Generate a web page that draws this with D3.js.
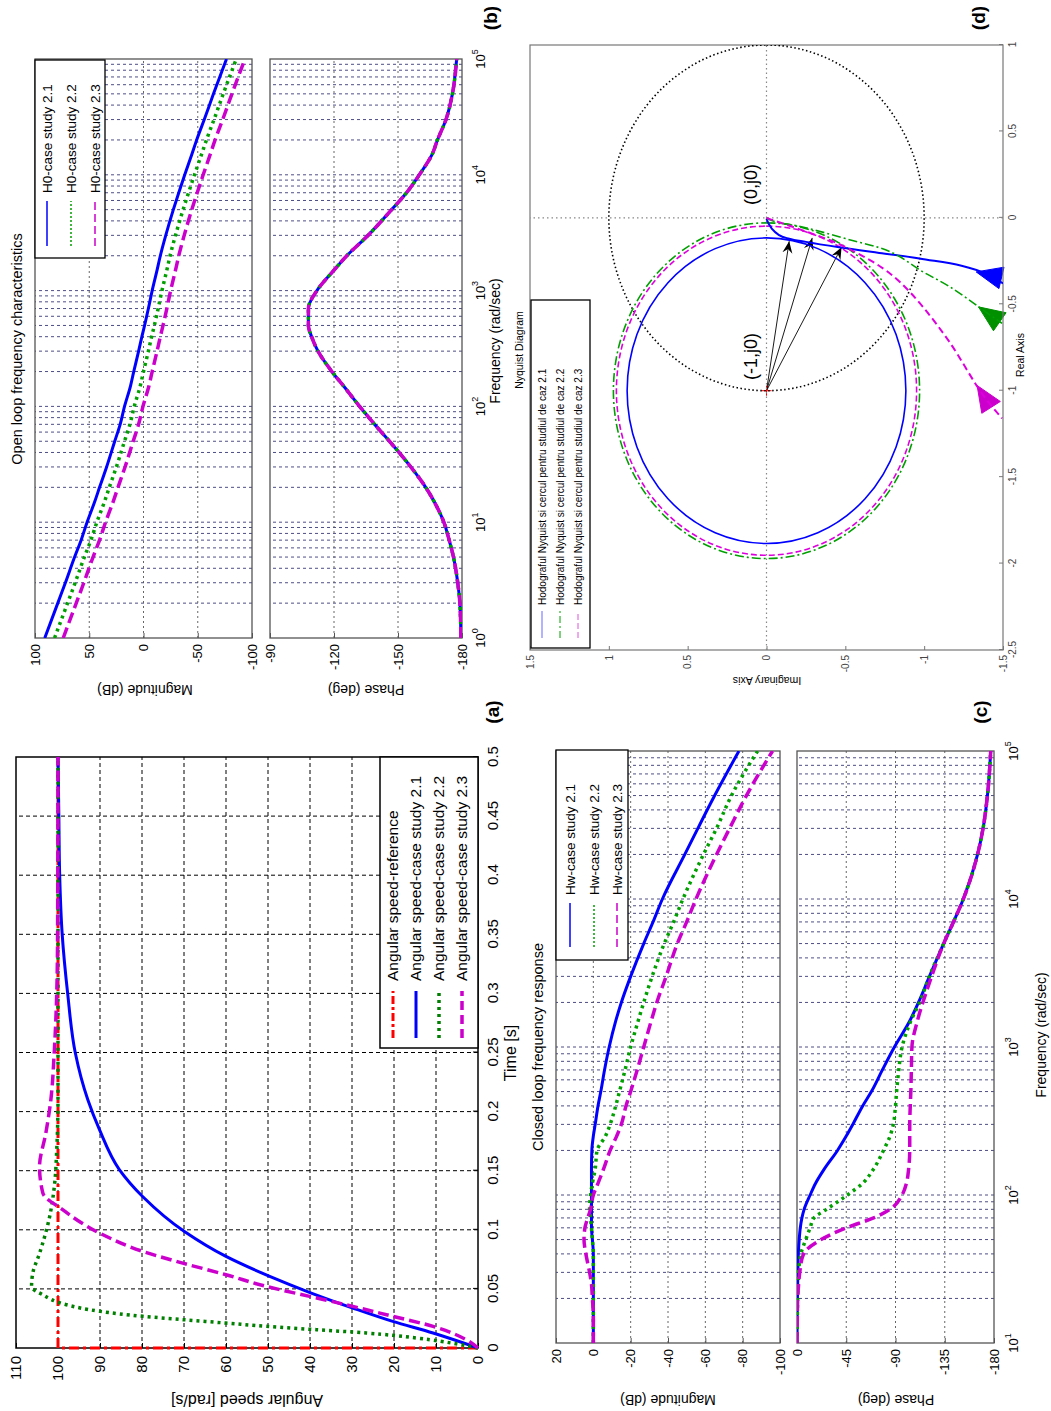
<!DOCTYPE html>
<html><head><meta charset="utf-8">
<script src="https://cdnjs.cloudflare.com/ajax/libs/d3/7.8.5/d3.min.js"></script>
<style>
html,body{margin:0;padding:0;background:#fff}
text{font-family:Arial,"Liberation Sans",Helvetica,sans-serif}
</style></head><body>
<svg id="fig" width="1051" height="1411"></svg>
<script>
// ================= DATA =================
// (a) step response
const timeTicks = [0,0.05,0.1,0.15,0.2,0.25,0.3,0.35,0.4,0.45,0.5];
const timeTickLabels = ["0","0.05","0.1","0.15","0.2","0.25","0.3","0.35","0.4","0.45","0.5"];
const speedTicks = [0,10,20,30,40,50,60,70,80,90,100,110];
const refT = [0,0,0.5];
const refW = [0,100,100];
const s21T = [0,0.0127,0.0225,0.0338,0.0465,0.0606,0.0775,0.0986,0.128,0.151,0.1845,0.21,0.25,0.3,0.35,0.4,0.45,0.5];
const s21W = [0,10.7,20.3,29.8,39.7,49.6,60,69.9,79.8,85.4,90.1,92.9,95.9,97.7,99,99.6,99.8,100];
const s22T = [0,0.003,0.0085,0.0127,0.0155,0.0183,0.0211,0.024,0.0268,0.031,0.0366,0.045,0.052,0.0634,0.08,0.111,0.139,0.168,0.21,0.3,0.5];
const s22W = [0,4.4,14.7,26.6,38.5,50.4,60,70.3,79.8,90,98,103.6,106.3,106,104.4,102,100.8,100.3,100,100,100];
const s23T = [0,0.007,0.0183,0.0268,0.0352,0.0437,0.0521,0.062,0.0718,0.0817,0.0972,0.117,0.131,0.1535,0.1817,0.21,0.25,0.3,0.35,0.5];
const s23W = [0,2.8,10.7,20.3,29.8,40.1,50.4,60,70.3,79.8,90.1,98.9,103.6,104.4,102.9,101.7,100.9,100.3,100.1,100];
const legendA = ["Angular speed-reference","Angular speed-case study 2.1","Angular speed-case study 2.2","Angular speed-case study 2.3"];

// (b) open loop Bode
const olFreq = [1,2,3,5,7,10,15,20,30,50,70,100,150,200,300,400,500,700,1000,1500,2000,3000,5000,7000,10000,15000,20000,30000,50000,100000];
const olMag21 = [91,79,72,63.5,57.5,52,45,40.5,34,26.5,21.5,17.5,12,9,4.5,1.5,-1,-4.5,-8,-12.5,-15.5,-20.5,-27.5,-32.5,-38,-44.5,-49,-56,-64.5,-76.5];
const olMag22 = [82,70,63,54.5,48.5,43,36,31.5,25,17.5,12.5,8.5,3,0,-4.5,-7.5,-10,-13.5,-17,-21.5,-24.5,-29.5,-36.5,-41.5,-47,-53.5,-58,-65,-73.5,-85.5];
const olMag23 = [74,62,55,46.5,40.5,35,28,23.5,17,9.5,4.5,0.5,-5,-8,-12.5,-15.5,-18,-21.5,-25,-29.5,-32.5,-37.5,-44.5,-49.5,-55,-61.5,-66,-73,-81.5,-93.5];
const olPhase = [-179.5,-179,-178,-176,-174,-171.5,-167,-163,-156,-146,-139,-132,-124.5,-119,-112.5,-109.5,-108,-108,-112,-120,-126,-136,-147,-154,-160,-166,-168.5,-172.5,-175.5,-177.5];
const olMagTicks = [-100,-50,0,50,100];
const olPhTicks = [-180,-150,-120,-90];
const olFreqTicks = [1,10,100,1000,10000,100000];
const legendB = ["H0-case study 2.1","H0-case study 2.2","H0-case study 2.3"];

// (c) closed loop Bode
const clFreq = [10,15,20,25,30,40,50,60,70,80,100,120,150,200,250,300,400,500,700,1000,1500,2000,3000,5000,7000,10000,20000,30000,50000,100000];
const clMag21 = [0,0,0,0,0,0,0.5,1,1,1,1,1,1,0.8,0,-1,-2.5,-4,-6,-8.5,-12,-15,-20,-27,-32,-37,-49,-56,-65,-78];
const clMag22 = [0,0,0,0,0,0,0.5,1,1.5,2,1.5,0.5,-1,-2,-6.5,-9,-12,-14,-17,-20,-24,-27,-31.5,-38,-43,-48,-59,-66,-74,-88];
const clMag23 = [0,0,0.5,1,2,4,5,4.5,3,1.5,0,-2.5,-5.5,-9,-12.5,-15,-17.5,-20,-23.5,-27,-31,-34,-39,-45,-50,-55,-66,-73,-82,-96];
const clPh21 = [0,-0.2,-0.4,-0.6,-0.8,-1.2,-2,-3,-4.5,-6.5,-12,-17,-25,-37,-45,-51,-60,-68,-78,-89,-103,-111,-121,-134,-143,-152,-165,-170,-174,-177];
const clPh22 = [0,-0.3,-0.6,-1,-1.5,-3.5,-8,-12,-15.5,-27,-46,-60,-70,-79,-85,-88,-90,-91,-93,-96,-104,-112,-121,-134,-143,-152,-165,-170,-174,-177];
const clPh23 = [0,-0.3,-0.6,-1.5,-2.5,-6,-22,-45,-70,-85,-96,-100,-102,-103,-103,-103,-103.5,-104,-104.5,-105,-110,-115,-123,-134,-143,-152,-165,-170,-174,-177];
const clMagTicks = [-100,-80,-60,-40,-20,0,20];
const clPhTicks = [-180,-135,-90,-45,0];
const clFreqTicks = [10,100,1000,10000,100000];
const legendC = ["Hw-case study 2.1","Hw-case study 2.2","Hw-case study 2.3"];

// (d) Nyquist
const nyRe21 = [-0.004,-0.019,-0.067,-0.1,-0.121,-0.139,-0.17,-0.203,-0.235,-0.33,-0.38];
const nyIm21 = [0,-0.006,-0.038,-0.08,-0.144,-0.25,-0.46,-0.715,-0.97,-1.41,-1.5];
const nyRe22 = [0,-0.01,-0.048,-0.12,-0.222,-0.3,-0.396,-0.558,-0.61];
const nyIm22 = [0,-0.017,-0.207,-0.5,-0.841,-0.97,-1.158,-1.412,-1.494];
const nyRe23 = [0,-0.01,-0.065,-0.18,-0.367,-0.715,-1.033,-1.16];
const nyIm23 = [0,-0.03,-0.207,-0.524,-0.841,-1.158,-1.38,-1.494];
const circleRadius = [0.884, 0.971, 0.952];   // circles centred at (-1, j0)
const arrowTipRe = [-0.135,-0.116,-0.17];
const arrowTipIm = [-0.144,-0.29,-0.476];
const dirArrowIdx = [9,7,6];
const reTicks = [-2.5,-2,-1.5,-1,-0.5,0,0.5,1];
const imTicks = [-1.5,-1,-0.5,0,0.5,1,1.5];
const legendD = ["Hodograful Nyquist si cercul pentru studiul de caz 2.1","Hodograful Nyquist si cercul pentru studiul de caz 2.2","Hodograful Nyquist si cercul pentru studiul de caz 2.3"];

// ================= DRAWING =================
const fmt = d => String(d);
const svg = d3.select('#fig');
const root = svg.append('g').attr('transform','translate(0,1411) rotate(-90)'); // landscape page turned
const defs = root.append('defs');

function T(g,x,y,s,o={}){
  const t=g.append('text').attr('x',x).attr('y',y).text(s)
    .attr('font-size',o.size||14).attr('text-anchor',o.anchor||'start').attr('fill',o.fill||'#000');
  if(o.weight) t.attr('font-weight',o.weight);
  if(o.rot) t.attr('transform',`rotate(${o.rot},${x},${y})`);
  return t;
}
function P(g,pts,st,curve){
  return g.append('path').attr('d',d3.line().curve(curve||d3.curveLinear)(pts))
    .attr('fill','none').attr('stroke',st.c).attr('stroke-width',st.w||1)
    .attr('stroke-dasharray',st.d||null).attr('stroke-linecap',st.cap||'butt').attr('stroke-linejoin','round');
}
let cid=0;
function clipG(x0,y0,x1,y1){
  const id='cp'+(cid++);
  defs.append('clipPath').attr('id',id).append('rect').attr('x',x0).attr('y',y0).attr('width',x1-x0).attr('height',y1-y0);
  return root.append('g').attr('clip-path',`url(#${id})`);
}
function L(g,x1,y1,x2,y2,st){
  return g.append('line').attr('x1',x1).attr('y1',y1).attr('x2',x2).attr('y2',y2)
    .attr('stroke',st.c).attr('stroke-width',st.w||1).attr('stroke-dasharray',st.d||null);
}
const zip=(xs,ys,sx,sy)=>xs.map((x,i)=>[sx(x),sy(ys[i])]);

// ---------- (a) ----------
{
  const x=d3.scaleLinear().domain([0,0.5]).range([63,654]);
  const y=d3.scaleLinear().domain([0,110]).range([478,16]);
  const g=root.append('g');
  timeTicks.slice(1,-1).forEach(t=>L(g,x(t),y(0),x(t),y(110),{c:'#000',w:1,d:'4,3'}));
  speedTicks.slice(1,-1).forEach(v=>L(g,x(0),y(v),x(0.5),y(v),{c:'#000',w:1,d:'4,3'}));
  const xa=g.append('g').attr('transform',`translate(0,${y(0)})`)
    .call(d3.axisBottom(x).tickValues(timeTicks).tickFormat((d,i)=>timeTickLabels[i]).tickSizeInner(-5).tickSizeOuter(0).tickPadding(9));
  const ya=g.append('g').attr('transform',`translate(${x(0)},0)`)
    .call(d3.axisLeft(y).tickValues(speedTicks).tickFormat(fmt).tickSizeInner(-5).tickSizeOuter(0).tickPadding(8));
  [xa,ya].forEach(a=>{a.select('.domain').remove();a.selectAll('text').attr('font-size',15).attr('font-family','Arial,"Liberation Sans",sans-serif');a.selectAll('line').attr('stroke','#000');});
  const c=clipG(x(0)-3,y(110),x(0.5),y(0)+3);
  P(c,zip(refT,refW,x,y),{c:'#ff0000',w:3,d:'10,4,3,4'});
  P(c,zip(s21T,s21W,x,y),{c:'#0000ff',w:3},d3.curveMonotoneX);
  P(c,zip(s22T,s22W,x,y),{c:'#008000',w:3.5,d:'3,4'},d3.curveMonotoneX);
  P(c,zip(s23T,s23W,x,y),{c:'#cc00cc',w:3.5,d:'11,5'},d3.curveMonotoneX);
  g.append('rect').attr('x',x(0)).attr('y',y(110)).attr('width',x(0.5)-x(0)).attr('height',y(0)-y(110)).attr('fill','none').attr('stroke','#000').attr('stroke-width',1.5);
  const lg=root.append('g');
  lg.append('rect').attr('x',363).attr('y',380).attr('width',654-363).attr('height',478-380).attr('fill','#fff').attr('stroke','#000').attr('stroke-width',1.5);
  const st=[{c:'#ff0000',w:3,d:'8,3,3,3'},{c:'#0000ff',w:3},{c:'#008000',w:3.5,d:'3,4'},{c:'#cc00cc',w:3.5,d:'9,5'}];
  const ly=[393,416,439,462];
  legendA.forEach((s,i)=>{L(lg,373,ly[i],420,ly[i],st[i]);T(lg,430,ly[i]+5,s,{size:15.5});});
  T(root,358,516,'Time [s]',{size:16,anchor:'middle'});
  T(root,16,247,'Angular speed [rad/s]',{size:16,anchor:'middle',rot:-90});
  T(root,699,499,'(a)',{size:19,weight:'bold',anchor:'middle'});
}

// ---------- Bode helper ----------
function bodePlot(xs, ys, yTicks, decades){
  const g=root.append('g');
  const [x0,x1]=xs.range(), [yb,yt]=ys.range();
  const gridSt={c:'#3a3a7a',w:0.9,d:'3,3'};
  for(let k=decades[0];k<decades[1];k++){
    for(let m=1;m<10;m++){const f=m*Math.pow(10,k); if(k===decades[0]&&m===1) continue; L(g,xs(f),yb,xs(f),yt,gridSt);}
  }
  yTicks.forEach(v=>{ if(ys(v)>yt+1 && ys(v)<yb-1) L(g,x0,ys(v),x1,ys(v),{c:'#555',w:0.9,d:'2,3'}); });
  const ya=g.append('g').attr('transform',`translate(${x0},0)`)
    .call(d3.axisLeft(ys).tickValues(yTicks).tickFormat(fmt).tickSizeInner(-5).tickSizeOuter(0).tickPadding(6));
  ya.select('.domain').remove();
  ya.selectAll('text').attr('font-size',13).attr('font-family','Arial,"Liberation Sans",sans-serif').attr('fill','#000');
  ya.selectAll('line').attr('stroke','#555');
  g.append('rect').attr('x',x0).attr('y',yt).attr('width',x1-x0).attr('height',yb-yt).attr('fill','none').attr('stroke','#555').attr('stroke-width',1.3);
  return g;
}
function freqLabels(g, xs, ticks, yy){
  ticks.forEach(f=>{
    const t=g.append('text').attr('x',xs(f)).attr('y',yy).attr('text-anchor','middle').attr('font-size',13);
    t.append('tspan').text('10');
    t.append('tspan').attr('dy',-7).attr('font-size',9).text(String(Math.round(Math.log10(f))));
  });
}

// ---------- (b) ----------
{
  const x=d3.scaleLog().domain([1,1e5]).range([773,1352]);
  const ym=d3.scaleLinear().domain([-100,100]).range([252,35]);
  const yp=d3.scaleLinear().domain([-180,-90]).range([462,270]);
  bodePlot(x,ym,olMagTicks,[0,5]);
  bodePlot(x,yp,olPhTicks,[0,5]);
  const cm=clipG(773,35,1352,252);
  P(cm,zip(olFreq,olMag21,x,ym),{c:'#0000ff',w:3},d3.curveMonotoneX);
  P(cm,zip(olFreq,olMag22,x,ym),{c:'#00a000',w:3.5,d:'3,4'},d3.curveMonotoneX);
  P(cm,zip(olFreq,olMag23,x,ym),{c:'#cc00cc',w:3.5,d:'11,5'},d3.curveMonotoneX);
  const cp=clipG(773,270,1352,462);
  P(cp,zip(olFreq,olPhase,x,yp),{c:'#0000ff',w:3},d3.curveMonotoneX);
  P(cp,zip(olFreq,olPhase,x,yp),{c:'#00a000',w:3.5,d:'3,4'},d3.curveMonotoneX);
  P(cp,zip(olFreq,olPhase,x,yp),{c:'#cc00cc',w:3.5,d:'11,5'},d3.curveMonotoneX);
  freqLabels(root,x,olFreqTicks,485);
  T(root,1062,22,'Open loop frequency characteristics',{size:14.5,anchor:'middle'});
  T(root,1070,500,'Frequency  (rad/sec)',{size:14,anchor:'middle'});
  T(root,726,145,'Magnitude (dB)',{size:14,anchor:'middle',rot:-90});
  T(root,726,366,'Phase (deg)',{size:14,anchor:'middle',rot:-90});
  const lg=root.append('g');
  lg.append('rect').attr('x',1153).attr('y',35).attr('width',1351-1153).attr('height',70).attr('fill','#fff').attr('stroke','#000').attr('stroke-width',1.3);
  const st=[{c:'#0000ff',w:1.5},{c:'#00a000',w:1.5,d:'2,2'},{c:'#cc00cc',w:1.5,d:'8,4'}];
  [47,71,95].forEach((yy,i)=>{L(lg,1165,yy,1210,yy,st[i]);T(lg,1218,yy+5,legendB[i],{size:13.5});});
  T(root,1393,497,'(b)',{size:19,weight:'bold',anchor:'middle'});
}

// ---------- (c) ----------
{
  const x=d3.scaleLog().domain([10,1e5]).range([68,660]);
  const ym=d3.scaleLinear().domain([-100,20]).range([780,556]);
  const yp=d3.scaleLinear().domain([-180,0]).range([994,797]);
  bodePlot(x,ym,clMagTicks,[1,5]);
  bodePlot(x,yp,clPhTicks,[1,5]);
  const cm=clipG(68,556,660,780);
  P(cm,zip(clFreq,clMag21,x,ym),{c:'#0000ff',w:3},d3.curveMonotoneX);
  P(cm,zip(clFreq,clMag22,x,ym),{c:'#00a000',w:3.5,d:'3,4'},d3.curveMonotoneX);
  P(cm,zip(clFreq,clMag23,x,ym),{c:'#cc00cc',w:3.5,d:'11,5'},d3.curveMonotoneX);
  const cp=clipG(68,797,660,994);
  P(cp,zip(clFreq,clPh21,x,yp),{c:'#0000ff',w:3},d3.curveMonotoneX);
  P(cp,zip(clFreq,clPh22,x,yp),{c:'#00a000',w:3.5,d:'3,4'},d3.curveMonotoneX);
  P(cp,zip(clFreq,clPh23,x,yp),{c:'#cc00cc',w:3.5,d:'11,5'},d3.curveMonotoneX);
  freqLabels(root,x,clFreqTicks,1018);
  T(root,364,543,'Closed loop frequency response',{size:14.5,anchor:'middle'});
  T(root,376,1046,'Frequency  (rad/sec)',{size:14,anchor:'middle'});
  T(root,16,668,'Magnitude (dB)',{size:14,anchor:'middle',rot:-90});
  T(root,16,896,'Phase (deg)',{size:14,anchor:'middle',rot:-90});
  const lg=root.append('g');
  lg.append('rect').attr('x',451).attr('y',556).attr('width',661-451).attr('height',72).attr('fill','#fff').attr('stroke','#000').attr('stroke-width',1.3);
  const st=[{c:'#0000ff',w:1.5},{c:'#00a000',w:1.5,d:'2,2'},{c:'#cc00cc',w:1.5,d:'8,4'}];
  [570,594,617].forEach((yy,i)=>{L(lg,464,yy,508,yy,st[i]);T(lg,516,yy+5,legendC[i],{size:13.5});});
  T(root,699,987,'(c)',{size:19,weight:'bold',anchor:'middle'});
}

// ---------- (d) ----------
{
  const x=d3.scaleLinear().domain([-2.5,1]).range([761,1366]);
  const y=d3.scaleLinear().domain([-1.5,1.5]).range([1003,530]);
  const g=root.append('g');
  const c=clipG(761,530,1366,1003);
  L(c,x(0),y(-1.5),x(0),y(1.5),{c:'#888',w:1.2,d:'1.5,3'});
  L(c,x(-2.5),y(0),x(1),y(0),{c:'#888',w:1.2,d:'1.5,3'});
  c.append('ellipse').attr('cx',x(0)).attr('cy',y(0)).attr('rx',x(1)-x(0)).attr('ry',y(0)-y(1))
    .attr('fill','none').attr('stroke','#000').attr('stroke-width',1.6).attr('stroke-dasharray','1.5,2.5');
  const cst=[{c:'#0000ff',w:1.6},{c:'#00a000',w:1.6,d:'9,3,2,3'},{c:'#dd00dd',w:1.6,d:'6,3'}];
  circleRadius.forEach((r,i)=>{
    c.append('ellipse').attr('cx',x(-1)).attr('cy',y(0)).attr('rx',x(r)-x(0)).attr('ry',y(0)-y(r))
      .attr('fill','none').attr('stroke',cst[i].c).attr('stroke-width',cst[i].w).attr('stroke-dasharray',cst[i].d||null);
  });
  const curves=[[nyRe21,nyIm21],[nyRe22,nyIm22],[nyRe23,nyIm23]];
  const nst=[{c:'#0000ff',w:2},{c:'#00a000',w:1.6,d:'9,3,2,3'},{c:'#dd00dd',w:2,d:'7,4'}];
  const fills=['#0000ff','#009000','#cc00cc'];
  curves.forEach((cv,i)=>{ P(c,zip(cv[0],cv[1],x,y),nst[i],d3.curveMonotoneY); });
  curves.forEach((cv,i)=>{
    const k=dirArrowIdx[i];
    const p1=[x(cv[0][k]),y(cv[1][k])], p0=[x(cv[0][k-1]),y(cv[1][k-1])];
    let ux=p0[0]-p1[0], uy=p0[1]-p1[1]; const n=Math.hypot(ux,uy); ux/=n; uy/=n;
    const len=26, hw=11;
    const tip=[p1[0]+ux*len*0.5,p1[1]+uy*len*0.5], b=[p1[0]-ux*len*0.5,p1[1]-uy*len*0.5];
    g.append('path').attr('d',`M${tip}L${b[0]-uy*hw},${b[1]+ux*hw}L${b[0]+uy*hw},${b[1]-ux*hw}Z`).attr('fill',fills[i]).attr('stroke',fills[i]);
  });
  defs.append('marker').attr('id','ah').attr('viewBox','-12 -6 14 12').attr('refX',0).attr('refY',0)
    .attr('markerWidth',14).attr('markerHeight',12).attr('markerUnits','userSpaceOnUse').attr('orient','auto')
    .append('path').attr('d','M0,0L-12,-5L-8,0L-12,5Z').attr('fill','#000');
  arrowTipRe.forEach((re,i)=>{
    L(g,x(-1),y(0),x(re),y(arrowTipIm[i]),{c:'#000',w:0.9}).attr('marker-end','url(#ah)');
  });
  L(g,x(-1)-5,y(0),x(-1)+5,y(0),{c:'#ff0000',w:1});
  L(g,x(-1),y(0)-5,x(-1),y(0)+5,{c:'#ff0000',w:1});
  T(g,1206,757,'(0,j0)',{size:18});
  T(g,1031,757,'(-1,j0)',{size:18});
  g.append('rect').attr('x',761).attr('y',530).attr('width',1366-761).attr('height',1003-530).attr('fill','none').attr('stroke','#777').attr('stroke-width',1.2);
  const xa=g.append('g').attr('transform',`translate(0,${y(-1.5)})`)
    .call(d3.axisBottom(x).tickValues(reTicks).tickFormat(fmt).tickSizeInner(-4).tickSizeOuter(0).tickPadding(6));
  const ya=g.append('g').attr('transform',`translate(${x(-2.5)},0)`)
    .call(d3.axisLeft(y).tickValues(imTicks).tickFormat(fmt).tickSizeInner(-4).tickSizeOuter(0).tickPadding(5));
  [xa,ya].forEach(a=>{a.select('.domain').remove();a.selectAll('text').attr('font-size',10).attr('fill','#444').attr('font-family','Arial,"Liberation Sans",sans-serif');a.selectAll('line').attr('stroke','#777');});
  T(root,1061,523,'Nyquist Diagram',{size:10.5,anchor:'middle'});
  T(root,1056,1024,'Real Axis',{size:10.5,anchor:'middle'});
  T(root,734,767,'Imaginary Axis',{size:10.5,anchor:'middle',rot:-90});
  const lg=root.append('g');
  lg.append('rect').attr('x',763).attr('y',531).attr('width',1111-763).attr('height',59).attr('fill','#fff').attr('stroke','#000').attr('stroke-width',1.3);
  const lst=[{c:'#6666ff',w:1},{c:'#00a000',w:1,d:'7,3,2,3'},{c:'#dd55dd',w:1,d:'6,3'}];
  [542,560,578].forEach((yy,i)=>{L(lg,773,yy,800,yy,lst[i]);T(lg,806,yy+4,legendD[i],{size:10});});
  T(root,1393,985,'(d)',{size:19,weight:'bold',anchor:'middle'});
}
</script>
</body></html>
